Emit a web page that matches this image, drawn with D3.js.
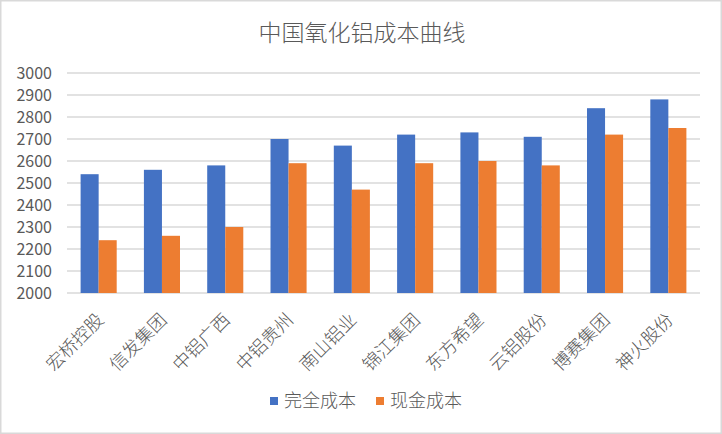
<!DOCTYPE html>
<html>
<head>
<meta charset="utf-8">
<script src="https://cdn.jsdelivr.net/npm/d3@7"></script>
<style>
  html, body { margin: 0; padding: 0; background: #fff; }
  svg { display: block; }
</style>
</head>
<body>
<svg id="chart"></svg>
<script>
// Data
var companies = ["宏桥控股", "信发集团", "中铝广西", "中铝贵州", "南山铝业",
  "锦江集团", "东方希望", "云铝股份", "博赛集团", "神火股份"];
var seriesNames = ["完全成本", "现金成本"];
var fullCost = [2540, 2560, 2580, 2700, 2670, 2720, 2730, 2710, 2840, 2880];
var cashCost = [2240, 2260, 2300, 2590, 2470, 2590, 2600, 2580, 2720, 2750];
var yTicks = [2000, 2100, 2200, 2300, 2400, 2500, 2600, 2700, 2800, 2900, 3000];

var width = 722, height = 434;
var colors = ["#4472c4", "#ed7d31"];
var textColor = "#595959";
var font = "'Noto Sans CJK SC', 'Noto Sans', sans-serif";

var svg = d3.select("#chart").attr("width", width).attr("height", height);

// chart frame
svg.append("rect")
  .attr("x", 0.75).attr("y", 0.75)
  .attr("width", width - 1.5).attr("height", height - 1.5)
  .attr("fill", "#fff").attr("stroke", "#d9d9d9").attr("stroke-width", 1.5);

var plotLeft = 67, plotRight = 700, plotTop = 73, plotBottom = 293;

var y = d3.scaleLinear().domain([2000, 3000]).range([plotBottom, plotTop]);
var x = d3.scaleBand().domain(companies).range([plotLeft, plotRight])
  .paddingInner(0.43).paddingOuter(0.215);
var xs = d3.scaleBand().domain(seriesNames).range([0, x.bandwidth()]);

// Gridlines
svg.append("g")
  .selectAll("line")
  .data(yTicks)
  .enter()
  .append("line")
  .attr("x1", plotLeft).attr("x2", plotRight)
  .attr("y1", (d) => y(d)).attr("y2", (d) => y(d))
  .attr("stroke", "#d9d9d9").attr("stroke-width", 1.5);

// Y axis labels
var yAxis = svg.append("g")
  .attr("transform", "translate(" + (plotLeft - 15) + ",0)")
  .call(d3.axisLeft(y).tickValues(yTicks).tickFormat(d3.format("d")).tickSize(0).tickPadding(0));
yAxis.select(".domain").remove();
yAxis.selectAll("text")
  .attr("fill", textColor)
  .style("font-family", font)
  .style("font-size", "16px");

// Bars
var rows = companies.map(function (c, i) {
  return { name: c, values: [fullCost[i], cashCost[i]] };
});

var groups = svg.append("g")
  .selectAll("g")
  .data(rows)
  .enter()
  .append("g")
  .attr("transform", (d) => "translate(" + x(d.name) + ",0)");

groups.selectAll("rect")
  .data((d) => d.values.map((v, j) => ({ key: seriesNames[j], value: v, j: j })))
  .enter()
  .append("rect")
  .attr("x", (d) => xs(d.key))
  .attr("width", xs.bandwidth())
  .attr("y", (d) => y(d.value))
  .attr("height", (d) => y(2000) - y(d.value))
  .attr("fill", (d) => colors[d.j]);

// X axis category labels, rotated
var xAxis = svg.append("g")
  .attr("transform", "translate(0," + plotBottom + ")")
  .call(d3.axisBottom(x).tickSize(0).tickPadding(0));
xAxis.select(".domain").remove();
xAxis.selectAll("text")
  .attr("fill", textColor)
  .style("font-family", font)
  .style("font-size", "18px")
  .style("font-weight", 300)
  .attr("text-anchor", "end")
  .attr("dy", null)
  .attr("y", 0)
  .attr("transform", "translate(6,28) rotate(-45)");

// Title
svg.append("text")
  .attr("x", 362).attr("y", 41)
  .attr("text-anchor", "middle")
  .attr("fill", textColor)
  .style("font-family", font)
  .style("font-size", "23px")
  .style("font-weight", 300)
  .text("中国氧化铝成本曲线");

// Legend
var legend = svg.append("g")
  .selectAll("g")
  .data(seriesNames)
  .enter()
  .append("g")
  .attr("transform", (d, i) => "translate(" + (270 + i * 106) + ",397)");

legend.append("rect")
  .attr("width", 8).attr("height", 8)
  .attr("fill", (d, i) => colors[i]);

legend.append("text")
  .attr("x", 14).attr("y", 10)
  .attr("fill", textColor)
  .style("font-family", font)
  .style("font-size", "18px")
  .style("font-weight", 300)
  .text((d) => d);
</script>
</body>
</html>
